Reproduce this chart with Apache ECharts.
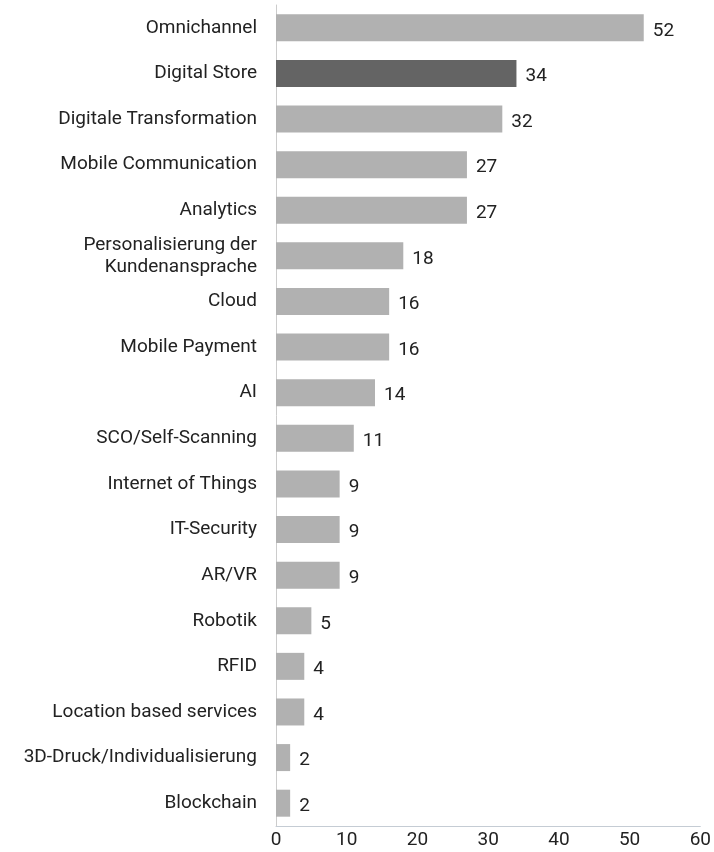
<!DOCTYPE html>
<html><head><meta charset="utf-8">
<script src="https://cdn.jsdelivr.net/npm/echarts@6/dist/echarts.min.js"></script>
<style>html,body{margin:0;padding:0;background:#fff}#c{width:714px;height:852px}</style>
</head><body><div id="c"></div>
<script>
const categories = ["Omnichannel","Digital Store","Digitale Transformation","Mobile Communication","Analytics","Personalisierung der\nKundenansprache","Cloud","Mobile Payment","AI","SCO/Self-Scanning","Internet of Things","IT-Security","AR/VR","Robotik","RFID","Location based services","3D-Druck/Individualisierung","Blockchain"];
const values = [52,34,32,27,27,18,16,16,14,11,9,9,9,5,4,4,2,2];
const highlight = "Digital Store";
const xTicks = [0,10,20,30,40,50,60];

const chart = echarts.init(document.getElementById('c'));
chart.setOption({
  animation:false,
  grid:{left:276,right:12,top:5,bottom:26,containLabel:false},
  xAxis:{type:'value',min:0,max:60,interval:10,
    axisLine:{show:true,lineStyle:{color:'#c5ccd4',width:1}},
    axisTick:{show:false},splitLine:{show:false},
    axisLabel:{color:'#222',fontSize:19,fontFamily:'Roboto',margin:5,formatter:v=>xTicks.includes(v)?String(v):''}},
  yAxis:{type:'category',inverse:true,data:categories,
    axisLine:{show:true,lineStyle:{color:'#cccccc',width:1}},
    axisTick:{show:false},
    axisLabel:{color:'#222',fontSize:19,fontFamily:'Roboto',margin:19,align:'right',lineHeight:22}},
  series:[{type:'bar',barWidth:27,
    data:values.map((v,i)=>({value:v,itemStyle:{color:categories[i]===highlight?'#646464':'#b1b1b1'}})),
    label:{show:true,position:'right',distance:9,color:'#222',fontSize:19,fontFamily:'Roboto',offset:[0,3]}}]
});
</script></body></html>
